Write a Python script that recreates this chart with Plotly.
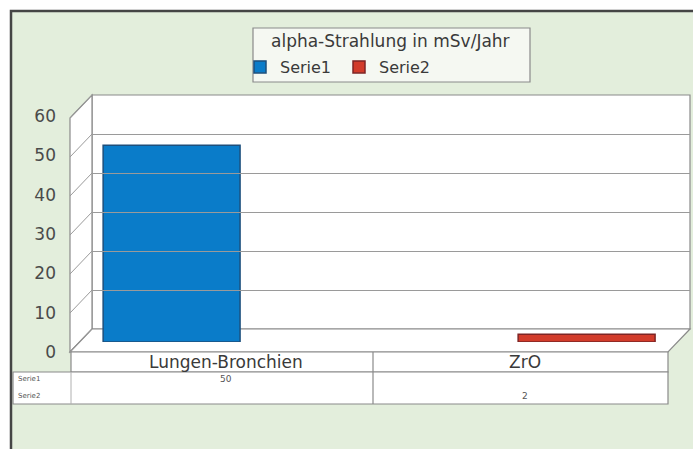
import plotly.graph_objects as go

# ---------------- data ----------------
categories = ["Lungen-Bronchien", "ZrO"]
serie1 = [50, None]
serie2 = [None, 2]
series_names = ["Serie1", "Serie2"]
y_ticks = [0, 10, 20, 30, 40, 50, 60]
chart_title = "alpha-Strahlung in mSv/Jahr"

# ---------------- geometry helpers (pixels -> paper) ----------------
W, H = 693, 449
def px(x):
    return x / W
def py(y):
    return 1 - y / H

# wall geometry (pixels)
FX0, FX1, FY0, FY60 = 70, 668, 352, 118      # front
BX0, BX1, BY0, BY60 = 92, 690, 329, 95       # back
MX0, MX1, MY0, MY60 = 81, 679, 342, 106      # mid depth (bars)

GREEN = "#e3eedc"
GRID = "#9a9a9a"
TXT = "#3a3a3a"
FONT = "DejaVu Sans, Verdana, sans-serif"

fig = go.Figure()

fig.add_trace(go.Bar(
    x=categories, y=serie1, name=series_names[0],
    marker=dict(color="#0a7cc9", line=dict(color="#1d4f7c", width=1.5)),
    offset=-0.426, width=0.458,
))
fig.add_trace(go.Bar(
    x=categories, y=serie2, name=series_names[1],
    marker=dict(color="#d23b2a", line=dict(color="#7e2424", width=1.5)),
    offset=-0.038, width=0.458,
))
# helper trace for back wall axes
fig.add_trace(go.Scatter(x=[None], y=[None], xaxis="x2", yaxis="y2",
                         showlegend=False, hoverinfo="skip"))

shapes = []
# chart frame / background
shapes.append(dict(type="rect", xref="paper", yref="paper", layer="below",
                   x0=px(11), x1=px(720), y0=py(470), y1=py(11),
                   fillcolor=GREEN, line=dict(color="#454545", width=2.5)))
# legend box
shapes.append(dict(type="rect", xref="paper", yref="paper", layer="below",
                   x0=px(253), x1=px(530), y0=py(82), y1=py(28),
                   fillcolor="#f5f8f2", line=dict(color="#8a8a8a", width=1.2)))
# back wall
shapes.append(dict(type="rect", xref="paper", yref="paper", layer="below",
                   x0=px(BX0), x1=px(BX1), y0=py(BY0), y1=py(BY60),
                   fillcolor="white", line=dict(color="#8a8a8a", width=1.2)))
# left wall
shapes.append(dict(type="path", xref="paper", yref="paper", layer="below",
                   path=f"M {px(FX0)} {py(FY60)} L {px(BX0)} {py(BY60)} L {px(BX0)} {py(BY0)} L {px(FX0)} {py(FY0)} Z",
                   fillcolor="white", line=dict(color="#8a8a8a", width=1.2)))
# floor
shapes.append(dict(type="path", xref="paper", yref="paper", layer="below",
                   path=f"M {px(FX0)} {py(FY0)} L {px(BX0)} {py(BY0)} L {px(BX1)} {py(BY0)} L {px(FX1)} {py(FY0)} Z",
                   fillcolor="white", line=dict(color="#8a8a8a", width=1.2)))
# left wall grid diagonals
for v in y_ticks:
    fy = FY0 - v * (FY0 - FY60) / 60
    by = BY0 - v * (BY0 - BY60) / 60
    shapes.append(dict(type="line", xref="paper", yref="paper", layer="below",
                       x0=px(FX0), y0=py(fy), x1=px(BX0), y1=py(by),
                       line=dict(color=GRID, width=1)))

# data table
TL, TC, TR = 13, 71, 668
TY0, TY1, TY3 = 352, 372, 404
DIV = 373
shapes.append(dict(type="rect", xref="paper", yref="paper", layer="below",
                   x0=px(TC), x1=px(TR), y0=py(TY1), y1=py(TY0),
                   fillcolor="white", line=dict(color="#8a8a8a", width=1.2)))
shapes.append(dict(type="rect", xref="paper", yref="paper", layer="below",
                   x0=px(TL), x1=px(TR), y0=py(TY3), y1=py(TY1),
                   fillcolor="white", line=dict(color="#8a8a8a", width=1.2)))
shapes.append(dict(type="line", xref="paper", yref="paper", layer="below",
                   x0=px(TC), x1=px(TC), y0=py(TY3), y1=py(TY1),
                   line=dict(color="#b0b0b0", width=1)))
shapes.append(dict(type="line", xref="paper", yref="paper", layer="below",
                   x0=px(DIV), x1=px(DIV), y0=py(TY3), y1=py(TY0),
                   line=dict(color="#8a8a8a", width=1.2)))

annotations = []
annotations.append(dict(xref="paper", yref="paper", x=px(391), y=py(41),
                        xanchor="center", yanchor="middle",
                        text=chart_title, showarrow=False,
                        font=dict(size=17, color=TXT, family=FONT)))
# header labels
for c in categories:
    annotations.append(dict(xref="x", yref="paper", x=c, y=py(362), xshift=-5,
                            xanchor="center", yanchor="middle",
                            text=c, showarrow=False,
                            font=dict(size=17, color=TXT, family=FONT)))
# values rows
for ri, (name, vals) in enumerate(zip(series_names, [serie1, serie2])):
    ry = [379, 396][ri]
    annotations.append(dict(xref="paper", yref="paper", x=px(29), y=py(ry),
                            xanchor="center", yanchor="middle",
                            text=name, showarrow=False,
                            font=dict(size=7, color="#555", family=FONT)))
    for c, v in zip(categories, vals):
        if v is not None:
            annotations.append(dict(xref="x", yref="paper", x=c, y=py(ry),
                                    xanchor="center", yanchor="middle",
                                    xshift=-5, text=str(v), showarrow=False,
                                    font=dict(size=9, color="#555", family=FONT)))

fig.update_layout(
    width=W, height=H,
    margin=dict(l=0, r=0, t=0, b=0, autoexpand=False),
    paper_bgcolor="white",
    plot_bgcolor="rgba(0,0,0,0)",
    barmode="overlay",
    font=dict(family=FONT, color=TXT),
    xaxis=dict(domain=[px(MX0), px(MX1)], type="category", range=[-0.5, 1.5],
               showticklabels=False, showgrid=False, zeroline=False,
               showline=False, ticks="", fixedrange=True, automargin=False),
    yaxis=dict(domain=[py(MY0), py(MY60)], range=[0, 60], tickvals=y_ticks,
               showgrid=False, zeroline=False, showline=False, ticks="",
               ticklabelshift=10, ticklabelstandoff=24, automargin=False,
               tickfont=dict(size=17, color="#4a4a4a", family=FONT)),
    xaxis2=dict(domain=[px(BX0), px(BX1)], range=[0, 1], anchor="y2",
                showticklabels=False, showgrid=False, zeroline=False,
                showline=False, ticks="", automargin=False),
    yaxis2=dict(domain=[py(BY0), py(BY60)], range=[0, 60], tickvals=y_ticks,
                anchor="x2", showticklabels=False, showgrid=True,
                gridcolor=GRID, gridwidth=1, zeroline=False, showline=False,
                ticks="", automargin=False),
    legend=dict(orientation="h", x=px(240), y=py(67), xanchor="left",
                yanchor="middle", bgcolor="rgba(0,0,0,0)",
                font=dict(size=16, color=TXT, family=FONT),
                itemwidth=30, entrywidth=54, traceorder="normal"),
    shapes=shapes,
    annotations=annotations,
)

fig.write_html("out.html")
